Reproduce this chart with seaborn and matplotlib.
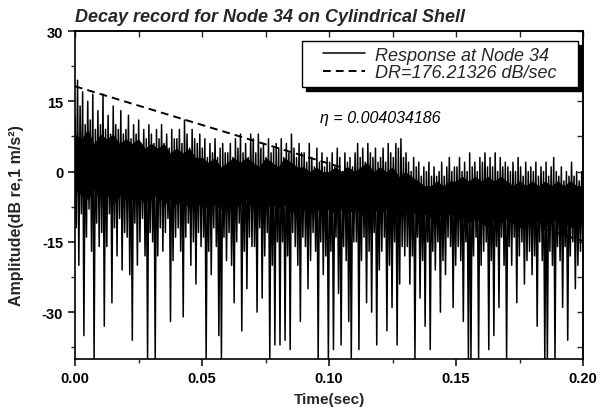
import numpy as np
import pandas as pd
import matplotlib
matplotlib.use("Agg")
import matplotlib.pyplot as plt
import seaborn as sns
from matplotlib.patches import Rectangle
from matplotlib.ticker import MultipleLocator, FormatStrFormatter

# ---- data (1 ms bins: local peak and local trough, dB) ----
peaks = [
    12, 19.5, 14, 17, 10, 15, 11, 16.5, 9, 13,
    10, 16.5, 9, 12, 8, 14, 10, 9, 13, 8,
    9, 12, 7, 10, 8, 11, 6, 9, 7, 10,
    8, 6, 9, 7, 10, 6, 8, 5, 9, 7,
    7, 9, 6, 11, 8, 5, 9, 7, 6, 8,
    5, 7, 3, 6, 4, 7, 3, 5, 6, 4,
    4, 6, 3, 7, 5, 8, 4, 6, 3, 8,
    7, 4, 8, 5, 6, 3, 7, 4, 5, 6,
    5, 7, 3, 6, 4, 8, 5, 3, 6, 4,
    4, 2, 6, 3, 1, 5, 2, 4, 1, 3,
    2, 4, 1, 5, 3, 0, 4, 2, 3, 1,
    4, 6, 3, 5, 2, 6, 4, 3, 5, 2,
    3, 5, 2, 6, 4, 3, 6, 5, 7, 3,
    4, 2, 0, 3, 1, 2, -1, 1, 0, 2,
    -1, 1, -1, 0, 2, -1, 1, 3, 0, 1,
    1, 3, 0, 2, 0, 4, 1, 2, 0, 3,
    2, 4, 1, 3, 1, 4, 0, 3, 1, 2,
    1, 0, 2, 0, 3, 1, -1, 2, 0, 1,
    0, 2, -1, 1, 0, 2, -1, 1, 3, 0,
    -1, 1, -2, 0, -1, 2, -1, 0, -2, 0,
]
troughs = [
    -12, -20, -9, -35, -14, -8, -17, -40, -11, -16,
    -13, -33, -16, -9, -28, -12, -18, -10, -21, -13,
    -14, -22, -36, -11, -20, -15, -10, -18, -40, -13,
    -15, -40, -18, -12, -17, -13, -10, -32, -19, -14,
    -12, -17, -31, -14, -11, -20, -15, -24, -13, -16,
    -14, -40, -17, -22, -12, -16, -35, -40, -14, -19,
    -13, -20, -28, -15, -11, -34, -17, -25, -14, -16,
    -16, -30, -12, -27, -18, -13, -40, -20, -37, -15,
    -37, -15, -36, -18, -38, -13, -16, -20, -32, -14,
    -16, -25, -19, -13, -17, -40, -15, -22, -18, -40,
    -17, -38, -14, -26, -37, -16, -19, -32, -40, -15,
    -15, -38, -19, -14, -28, -17, -30, -13, -37, -21,
    -17, -14, -34, -20, -29, -15, -37, -24, -16, -18,
    -16, -24, -18, -40, -14, -27, -19, -33, -15, -38,
    -17, -21, -15, -30, -19, -22, -14, -16, -29, -20,
    -16, -19, -32, -15, -40, -40, -18, -14, -40, -20,
    -17, -15, -38, -19, -35, -16, -29, -14, -20, -40,
    -16, -20, -14, -28, -18, -15, -24, -19, -17, -22,
    -18, -33, -15, -19, -40, -40, -17, -20, -40, -16,
    -19, -29, -16, -36, -18, -15, -25, -20, -17, -19,
]
# solid (densely overwritten) core of the trace, every 2.5 ms
core_top = [8,
            7, 9, 6, 8, 7, 8, 6, 7, 6, 7, 5, 6, 5, 6, 4, 5, 4, 5, 3, 3,
            2, 3, 1, 2, 3, 2, 3, 2, 1, 3, 2, 1, 3, 2, 1, 1, 0, 1, 0, 0,
            1, 0, 1, 0, 1, 2, 0, 1, 0, 1, -1, 0, -1, -2, -3, -3, -2, -3, -2, -2,
            -1, -2, -1, -2, -1, -2, -1, -2, -3, -2, -3, -2, -3, -2, -3, -2, -3, -2, -3, -3]
core_bottom = [-4,
               -5, -6, -4, -6, -5, -7, -5, -6, -6, -5, -7, -6, -5, -7, -6, -7, -6, -8, -7, -7,
               -8, -7, -8, -7, -8, -7, -6, -8, -7, -8, -7, -8, -7, -9, -8, -8, -9, -8, -9, -8,
               -9, -8, -9, -8, -9, -10, -8, -9, -8, -9, -10, -9, -8, -10, -9, -10, -9, -10, -9, -10,
               -10, -11, -10, -11, -12, -10, -11, -10, -11, -12, -11, -10, -11, -12, -11, -10, -11, -12, -11, -11]
dr_time = [0.0, 0.2]
dr_db = [18.2, -14.8]

x_ticks = [0.00, 0.05, 0.10, 0.15, 0.20]
y_ticks = [-30, -15, 0, 15, 30]

# ---- build the sampled response (peak, trough alternating) ----
amp = np.empty(2 * len(peaks))
amp[0::2] = peaks
amp[1::2] = troughs
t = np.linspace(0.0, 0.2, len(amp))
resp = pd.DataFrame({"t": t, "amp": amp})
fit = pd.DataFrame({"t": dr_time, "db": dr_db})
core_t = np.linspace(0.0, 0.2, len(core_top))

sns.set_theme(style="ticks")
plt.rcParams["font.family"] = ["Liberation Sans", "DejaVu Sans"]
plt.rcParams["axes.unicode_minus"] = False

fig = plt.figure(figsize=(6.05, 4.10), dpi=100)
fig.patch.set_facecolor("white")
ax = fig.add_axes([75 / 605, 1 - 360 / 410, 508 / 605, 328 / 410])
ax.set_facecolor("white")

ax.fill_between(core_t, core_bottom, core_top, color="black", linewidth=0, zorder=2)
sns.lineplot(data=resp, x="t", y="amp", ax=ax, color="black", linewidth=1.1,
             estimator=None, sort=False, label="Response at Node 34", zorder=3)
sns.lineplot(data=fit, x="t", y="db", ax=ax, color="black", linewidth=1.4,
             estimator=None, sort=False, label="DR=176.21326 dB/sec", zorder=3)
ax.lines[-1].set_dashes((4, 2.6))

ax.set_xlim(0, 0.2)
ax.set_ylim(-40, 30)
ax.set_xticks(x_ticks)
ax.set_yticks(y_ticks)
ax.xaxis.set_minor_locator(MultipleLocator(0.025))
ax.yaxis.set_minor_locator(MultipleLocator(7.5))
ax.xaxis.set_major_formatter(FormatStrFormatter("%.2f"))
ax.tick_params(which="major", direction="out", length=5, width=1.1,
               labelsize=10.5, colors="black")
ax.tick_params(which="minor", direction="out", length=3, width=1.0)
for lab in ax.get_xticklabels() + ax.get_yticklabels():
    lab.set_fontweight("bold")
for sp in ax.spines.values():
    sp.set_visible(True)
    sp.set_linewidth(1.2)
    sp.set_color("black")
    sp.set_zorder(6)

secx = ax.secondary_xaxis("top")
secx.set_xticks(np.arange(0, 0.2001, 0.025))
secx.set_xticklabels([])
secx.tick_params(direction="in", length=4, width=1.0)
secy = ax.secondary_yaxis("right")
secy.set_yticks(np.arange(-37.5, 30.1, 7.5))
secy.set_yticklabels([])
secy.tick_params(direction="in", length=4, width=1.0)

ax.set_xlabel("Time(sec)", fontsize=11, fontweight="bold", labelpad=5)
ax.set_ylabel("Amplitude(dB re,1 m/s²)", fontsize=11.5, fontweight="bold")
ax.yaxis.set_label_coords(-0.1, 0.44)
ax.set_title("Decay record for Node 34 on Cylindrical Shell", loc="left",
             fontsize=13, fontweight="bold", style="italic", pad=7)

# legend box with a solid offset shadow
bx0, by0, bw, bh = 0.447, 0.829, 0.543, 0.141
ax.add_patch(Rectangle((bx0 + 0.008, by0 - 0.012), bw, bh, transform=ax.transAxes,
                       facecolor="black", edgecolor="black", zorder=7, clip_on=False))
ax.add_patch(Rectangle((bx0, by0), bw, bh, transform=ax.transAxes,
                       facecolor="white", edgecolor="black", linewidth=1.0,
                       zorder=8, clip_on=False))
leg = ax.legend(loc="center", bbox_to_anchor=(bx0 + bw / 2, by0 + bh / 2),
                frameon=False, prop={"style": "italic", "size": 13},
                handlelength=2.3, handletextpad=0.6, labelspacing=0.05,
                borderpad=0.1)
leg.set_zorder(9)

ax.text(0.482, 0.735, "η = 0.004034186", transform=ax.transAxes,
        fontsize=11.5, style="italic", ha="left", va="center", color="black")

fig.savefig("out.png", dpi=100, facecolor="white")
